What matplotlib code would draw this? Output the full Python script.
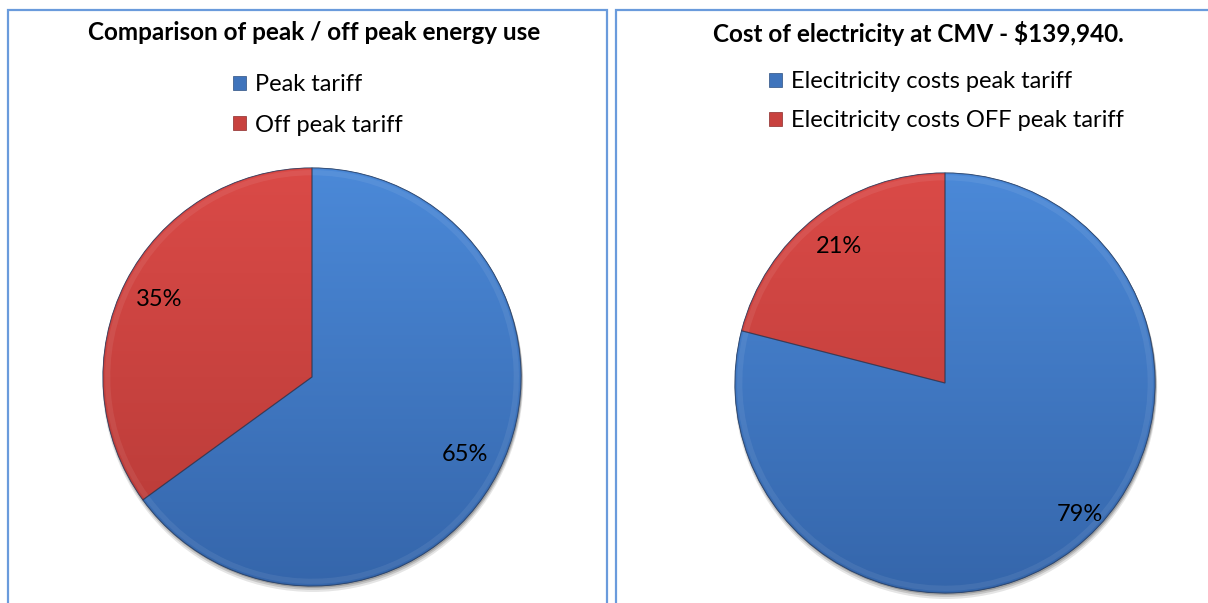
import numpy as np
import matplotlib
matplotlib.use("Agg")
import matplotlib.pyplot as plt
from matplotlib.patches import Rectangle, Wedge, Circle
from matplotlib.colors import LinearSegmentedColormap

plt.rcParams['font.family'] = ['Lato', 'DejaVu Sans']

# ---- data ----
left_title = "Comparison of peak / off peak energy use"
left_labels = ["Peak tariff", "Off peak tariff"]
left_values = [65, 35]

right_title = "Cost of electricity at CMV - $139,940."
right_labels = ["Elecitricity costs peak tariff", "Elecitricity costs OFF peak tariff"]
right_values = [79, 21]

# ---- styles ----
W, H = 1208, 603
fig = plt.figure(figsize=(W / 100, H / 100), dpi=100)
fig.patch.set_facecolor("white")

blue_top, blue_bot = "#4B89D8", "#3566AB"
red_top, red_bot = "#DA4A47", "#B63A37"
legend_blue = "#3F74BC"
legend_red = "#C8413E"
border_col = "#6A9BDC"


def fx(px):
    return px / W


def fy(py):
    return 1 - py / H


# panel borders
for (x0, x1) in [(8, 607), (616, 1212)]:
    fig.patches.append(Rectangle((fx(x0), fy(620)), fx(x1 - x0), (620 - 10) / H,
                                 transform=fig.transFigure, fill=False,
                                 edgecolor=border_col, linewidth=1.6, zorder=0))


def draw_pie(cx, cy, r, values, labels, title, title_x, legend_x, legend_y, spacing):
    ax = fig.add_axes([fx(cx - r - 10), fy(cy + r + 10), fx(2 * r + 20), (2 * r + 20) / H])
    lim = 1 + 10 / r
    wedges, texts, autotexts = ax.pie(
        values, startangle=90, counterclock=False,
        colors=[blue_top, red_top],
        autopct=lambda p: f"{p:.0f}%", pctdistance=0.82,
        wedgeprops=dict(edgecolor="#2d4f80", linewidth=0.6),
        textprops=dict(fontsize=17, color="black"))
    # soft shadow below the pie
    for k, a in [(0.022, 0.10), (0.014, 0.14), (0.007, 0.18)]:
        ax.add_patch(Circle((0.004, -k), 1.0 + k * 0.3, facecolor="black",
                            alpha=a, edgecolor="none", zorder=0.5))
    # gradient fills clipped to wedges
    grads = [(blue_top, blue_bot), (red_top, red_bot)]
    for w, (c1, c2) in zip(wedges, grads):
        cmap = LinearSegmentedColormap.from_list("g", [c2, c1])
        grad = np.linspace(0, 1, 256).reshape(-1, 1)
        im = ax.imshow(grad, cmap=cmap, extent=(-1, 1, -1, 1), origin="lower",
                       aspect="auto", zorder=1.5)
        im.set_clip_path(w)
        w.set_zorder(1)
    # subtle bevel-like rim and edges
    for w in wedges:
        ax.add_patch(Wedge(w.center, 0.99, w.theta1, w.theta2, width=0.025,
                           facecolor="white", alpha=0.07, edgecolor="none", zorder=1.8))
        ax.add_patch(Wedge(w.center, w.r, w.theta1, w.theta2,
                           fill=False, edgecolor=(0.15, 0.2, 0.3, 0.5),
                           linewidth=0.8, zorder=2))
    for t in autotexts:
        t.set_zorder(3)
    ax.set_xlim(-lim, lim)
    ax.set_ylim(-lim, lim)
    ax.set_aspect("equal")
    ax.axis("off")
    fig.text(fx(title_x), fy(33), title, ha="center", va="center",
             fontsize=17.5, fontweight="bold")
    handles = [Rectangle((0, 0), 1, 1, facecolor=legend_blue, edgecolor="#2d4f80", linewidth=0.5),
               Rectangle((0, 0), 1, 1, facecolor=legend_red, edgecolor="#8a2c2a", linewidth=0.5)]
    fig.legend(handles, labels, loc="upper left",
               bbox_to_anchor=(fx(legend_x), fy(legend_y)),
               frameon=False, fontsize=17, handlelength=0.55, handleheight=0.55,
               handletextpad=0.4, labelspacing=spacing, borderpad=0, borderaxespad=0)
    return ax, autotexts


draw_pie(312, 377, 209, left_values, left_labels, left_title, 314, 233, 74, 0.83)
ax2, at2 = draw_pie(945, 383, 210, right_values, right_labels, right_title, 918, 769, 71, 0.77)
# Excel places the big-slice label a little off the mid-angle
x, y = at2[0].get_position()
at2[0].set_position((x + 0.14, y + 0.02))

fig.savefig("out.png", dpi=100)
